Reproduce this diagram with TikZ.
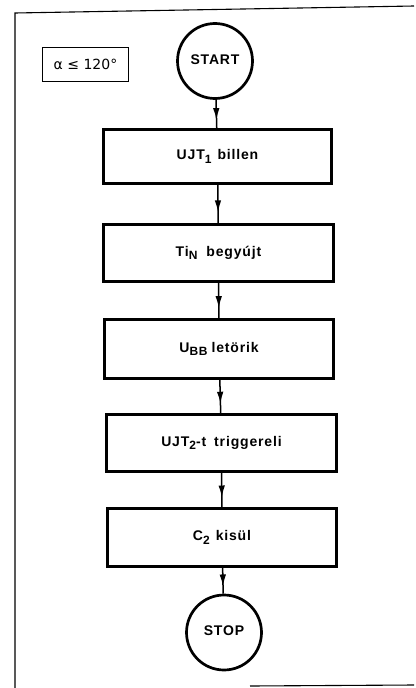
\documentclass[tikz,border=0pt]{standalone}
\usepackage{fontspec}
\setmainfont{Liberation Sans}
\newfontfamily\lbl[LetterSpace=6]{Liberation Sans}
\newfontfamily\dvs{DejaVu Sans}
\usetikzlibrary{arrows.meta,decorations.markings}
\newcommand\lowsub[1]{\raisebox{-0.5ex}{\fontsize{12}{12}\selectfont #1}}
\begin{document}
\begin{tikzpicture}[x=1pt,y=-1pt,
  stepbox/.style={draw,line width=2.9pt,rectangle,inner sep=0pt,font=\lbl\bfseries\fontsize{14}{16}\selectfont},
  term/.style={draw,circle,line width=2.7pt,minimum size=75pt,inner sep=0pt,font=\lbl\bfseries\fontsize{14}{16}\selectfont},
  condbox/.style={draw,line width=1.1pt,rectangle,inner sep=0pt,minimum width=86pt,minimum height=34pt,font=\dvs\fontsize{14}{16}\selectfont},
  flow/.style={line width=1.5pt,postaction={decorate},
    decoration={markings,mark=at position 0.72 with {\arrow{Latex[length=12pt,width=6.5pt]}}}},
  frame/.style={line width=1.1pt}
]
\useasboundingbox (0,0) rectangle (415,688);
% frame
\draw[frame] (414,6) -- (15,13) -- (15,688);
\draw[frame] (250,686) -- (414,685);
% condition
\node[condbox] (cond) at (85.5,64.5) {α ≤ 120°};
% flow
\node[term] (start) at (215,61) {\raisebox{3pt}{START}};
\node[stepbox,minimum width=228pt,minimum height=54pt] (b1) at (217.5,156.5) {UJT\lowsub{1}\hspace{6pt}billen};
\node[stepbox,minimum width=230pt,minimum height=57pt] (b2) at (218.5,253) {Ti\lowsub{N}\hspace{9pt}begyújt};
\node[stepbox,minimum width=229pt,minimum height=59pt] (b3) at (219,349) {U\lowsub{BB}\hspace{4pt}letörik};
\node[stepbox,minimum width=230pt,minimum height=57pt] (b4) at (221.5,443) {UJT\lowsub{2}-t\hspace{8pt}triggereli};
\node[stepbox,minimum width=229pt,minimum height=58pt] (b5) at (222,537.5) {C\lowsub{2}\hspace{6pt}kisül};
\node[term] (stop) at (224,632.5) {\raisebox{3pt}{STOP}};
\draw[flow] (start) -- (b1);
\draw[flow] (b1) -- (b2);
\draw[flow] (b2) -- (b3);
\draw[flow] (b3) -- (b4);
\draw[flow] (b4) -- (b5);
\draw[flow] (b5) -- (stop);
\end{tikzpicture}
\end{document}
